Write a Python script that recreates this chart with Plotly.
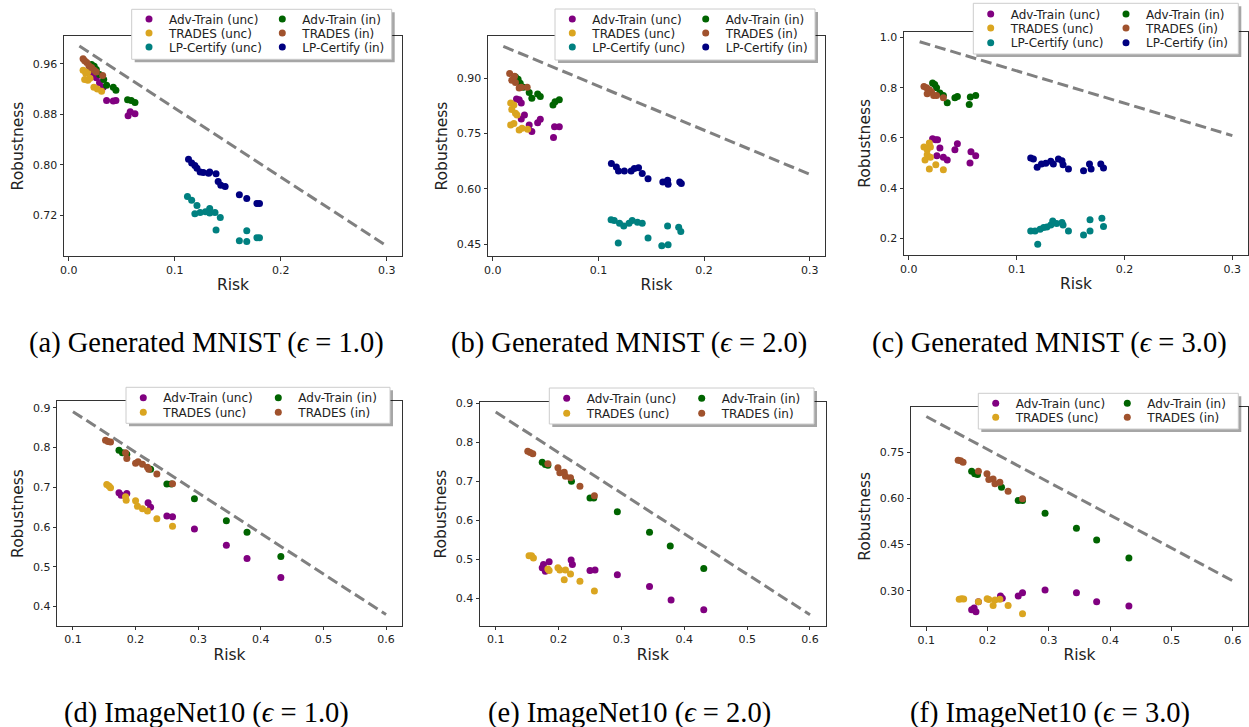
import plotly.graph_objects as go

W, H = 1249, 727

# ---------------- data: Generated MNIST, eps = 1.0 ----------------
A_ADV_UNC_X = [0.023, 0.026, 0.029, 0.0325, 0.0357, 0.042, 0.0445, 0.056, 0.058, 0.0625]
A_ADV_UNC_Y = [0.945, 0.938, 0.930, 0.923, 0.902, 0.901, 0.902, 0.878, 0.884, 0.881]
A_TRADES_UNC_X = [0.0135, 0.016, 0.018, 0.015, 0.018, 0.020, 0.0237, 0.027, 0.031]
A_TRADES_UNC_Y = [0.950, 0.945, 0.947, 0.935, 0.934, 0.937, 0.923, 0.920, 0.9166]
A_LP_UNC_X = [0.112, 0.116, 0.121, 0.119, 0.124, 0.129, 0.133, 0.133, 0.138, 0.143, 0.139, 0.161, 0.168, 0.168, 0.1776, 0.180]
A_LP_UNC_Y = [0.750, 0.744, 0.736, 0.723, 0.725, 0.726, 0.731, 0.724, 0.725, 0.717, 0.697, 0.680, 0.679, 0.696, 0.685, 0.685]
A_ADV_IN_X = [0.0215, 0.024, 0.026, 0.029, 0.033, 0.0357, 0.042, 0.0445, 0.0555, 0.059, 0.0625]
A_ADV_IN_Y = [0.959, 0.956, 0.951, 0.943, 0.935, 0.926, 0.923, 0.918, 0.903, 0.902, 0.899]
A_TRADES_IN_X = [0.0135, 0.015, 0.017, 0.019, 0.0215, 0.024, 0.026, 0.032]
A_TRADES_IN_Y = [0.968, 0.965, 0.962, 0.957, 0.954, 0.950, 0.947, 0.9415]
A_LP_IN_X = [0.113, 0.116, 0.119, 0.121, 0.124, 0.127, 0.132, 0.133, 0.139, 0.141, 0.1435, 0.1476, 0.161, 0.168, 0.1776, 0.180]
A_LP_IN_Y = [0.809, 0.803, 0.799, 0.795, 0.789, 0.788, 0.787, 0.789, 0.786, 0.774, 0.768, 0.766, 0.753, 0.747, 0.739, 0.739]
A_BOUND_X = [0.01, 0.3]
A_BOUND_Y = [0.988, 0.672]

# ---------------- data: Generated MNIST, eps = 2.0 ----------------
B_ADV_UNC_X = [0.0225, 0.025, 0.027, 0.027, 0.030, 0.0345, 0.037, 0.0425, 0.045, 0.0575, 0.0585, 0.063]
B_ADV_UNC_Y = [0.843, 0.841, 0.832, 0.789, 0.800, 0.773, 0.755, 0.779, 0.788, 0.739, 0.768, 0.768]
B_TRADES_UNC_X = [0.017, 0.018, 0.020, 0.0215, 0.023, 0.017, 0.020, 0.025, 0.0277, 0.033]
B_TRADES_UNC_Y = [0.832, 0.815, 0.827, 0.8045, 0.800, 0.773, 0.777, 0.759, 0.764, 0.761]
B_LP_UNC_X = [0.112, 0.115, 0.120, 0.124, 0.129, 0.132, 0.137, 0.1415, 0.1188, 0.147, 0.160, 0.166, 0.1655, 0.176, 0.178]
B_LP_UNC_Y = [0.5155, 0.5136, 0.506, 0.499, 0.506, 0.514, 0.509, 0.506, 0.4527, 0.466, 0.4455, 0.448, 0.499, 0.4955, 0.4836]
B_ADV_IN_X = [0.0215, 0.024, 0.026, 0.029, 0.0345, 0.037, 0.0425, 0.045, 0.057, 0.059, 0.063]
B_ADV_IN_Y = [0.903, 0.897, 0.886, 0.875, 0.861, 0.845, 0.857, 0.850, 0.827, 0.836, 0.841]
B_TRADES_IN_X = [0.016, 0.018, 0.0206, 0.0215, 0.025, 0.027, 0.0326]
B_TRADES_IN_Y = [0.912, 0.894, 0.905, 0.888, 0.873, 0.875, 0.875]
B_LP_IN_X = [0.1123, 0.117, 0.119, 0.1246, 0.131, 0.134, 0.138, 0.1415, 0.147, 0.161, 0.1655, 0.166, 0.177, 0.1785]
B_LP_IN_Y = [0.668, 0.659, 0.648, 0.648, 0.648, 0.6545, 0.657, 0.641, 0.627, 0.618, 0.623, 0.612, 0.618, 0.614]
B_BOUND_X = [0.01, 0.3]
B_BOUND_Y = [0.986, 0.639]

# ---------------- data: Generated MNIST, eps = 3.0 ----------------
C_ADV_UNC_X = [0.022, 0.0248, 0.0266, 0.0288, 0.026, 0.032, 0.0356, 0.0427, 0.045, 0.0567, 0.0576, 0.062]
C_ADV_UNC_Y = [0.596, 0.592, 0.592, 0.559, 0.529, 0.523, 0.512, 0.552, 0.576, 0.500, 0.545, 0.529]
C_TRADES_UNC_X = [0.014, 0.017, 0.019, 0.020, 0.017, 0.015, 0.020, 0.019, 0.025, 0.032]
C_TRADES_UNC_Y = [0.563, 0.552, 0.579, 0.563, 0.533, 0.512, 0.523, 0.476, 0.493, 0.473]
C_LP_UNC_X = [0.113, 0.117, 0.1217, 0.125, 0.128, 0.1316, 0.1334, 0.137, 0.142, 0.143, 0.1195, 0.148, 0.162, 0.168, 0.168, 0.179, 0.1805]
C_LP_UNC_Y = [0.229, 0.229, 0.236, 0.243, 0.245, 0.253, 0.269, 0.259, 0.263, 0.253, 0.176, 0.229, 0.213, 0.229, 0.273, 0.279, 0.247]
C_ADV_IN_X = [0.022, 0.024, 0.0257, 0.0288, 0.032, 0.0356, 0.0427, 0.045, 0.056, 0.057, 0.062]
C_ADV_IN_Y = [0.819, 0.813, 0.800, 0.779, 0.769, 0.740, 0.760, 0.765, 0.733, 0.763, 0.769]
C_TRADES_IN_X = [0.014, 0.0164, 0.019, 0.021, 0.017, 0.023, 0.0257, 0.032]
C_TRADES_IN_Y = [0.805, 0.800, 0.792, 0.783, 0.776, 0.769, 0.769, 0.760]
C_LP_IN_X = [0.113, 0.1155, 0.119, 0.123, 0.127, 0.1316, 0.134, 0.1387, 0.142, 0.143, 0.148, 0.162, 0.1675, 0.169, 0.178, 0.1805]
C_LP_IN_Y = [0.520, 0.516, 0.483, 0.496, 0.499, 0.507, 0.496, 0.516, 0.509, 0.493, 0.476, 0.469, 0.496, 0.476, 0.496, 0.480]
C_BOUND_X = [0.01, 0.3]
C_BOUND_Y = [0.983, 0.609]

# ---------------- data: ImageNet10, eps = 1.0 ----------------
D_ADV_UNC_X = [0.1735, 0.177, 0.186, 0.220, 0.224, 0.250, 0.259, 0.294, 0.345, 0.378, 0.432]
D_ADV_UNC_Y = [0.686, 0.680, 0.684, 0.661, 0.650, 0.628, 0.626, 0.595, 0.554, 0.521, 0.473]
D_TRADES_UNC_X = [0.154, 0.1575, 0.160, 0.184, 0.185, 0.200, 0.203, 0.211, 0.219, 0.234, 0.259]
D_TRADES_UNC_Y = [0.707, 0.703, 0.699, 0.676, 0.667, 0.666, 0.652, 0.646, 0.640, 0.621, 0.602]
D_ADV_IN_X = [0.1735, 0.179, 0.186, 0.224, 0.250, 0.257, 0.294, 0.345, 0.378, 0.432]
D_ADV_IN_Y = [0.793, 0.787, 0.783, 0.745, 0.708, 0.708, 0.671, 0.616, 0.587, 0.526]
D_TRADES_IN_X = [0.152, 0.156, 0.160, 0.184, 0.186, 0.200, 0.204, 0.211, 0.219, 0.221, 0.234, 0.259]
D_TRADES_IN_Y = [0.818, 0.815, 0.814, 0.787, 0.772, 0.760, 0.764, 0.758, 0.750, 0.745, 0.733, 0.709]
D_BOUND_X = [0.1, 0.6]
D_BOUND_Y = [0.890, 0.380]

# ---------------- data: ImageNet10, eps = 2.0 ----------------
E_ADV_UNC_X = [0.174, 0.176, 0.179, 0.185, 0.220, 0.222, 0.250, 0.258, 0.2935, 0.3447, 0.379, 0.431]
E_ADV_UNC_Y = [0.478, 0.486, 0.469, 0.493, 0.498, 0.486, 0.471, 0.472, 0.460, 0.430, 0.395, 0.370]
E_TRADES_UNC_X = [0.153, 0.157, 0.160, 0.183, 0.185, 0.199, 0.202, 0.209, 0.211, 0.219, 0.234, 0.257]
E_TRADES_UNC_Y = [0.509, 0.509, 0.503, 0.475, 0.471, 0.478, 0.472, 0.447, 0.472, 0.462, 0.443, 0.418]
E_ADV_IN_X = [0.174, 0.179, 0.183, 0.2205, 0.250, 0.256, 0.2935, 0.3447, 0.3777, 0.431]
E_ADV_IN_Y = [0.749, 0.743, 0.741, 0.700, 0.657, 0.657, 0.622, 0.569, 0.534, 0.476]
E_TRADES_IN_X = [0.151, 0.155, 0.159, 0.183, 0.199, 0.202, 0.209, 0.211, 0.219, 0.234, 0.257]
E_TRADES_IN_Y = [0.777, 0.774, 0.771, 0.745, 0.735, 0.722, 0.723, 0.713, 0.709, 0.687, 0.663]
E_BOUND_X = [0.1, 0.6]
E_BOUND_Y = [0.878, 0.357]

# ---------------- data: ImageNet10, eps = 3.0 ----------------
F_ADV_UNC_X = [0.174, 0.178, 0.181, 0.185, 0.221, 0.224, 0.250, 0.257, 0.2938, 0.345, 0.378, 0.4306]
F_ADV_UNC_Y = [0.238, 0.244, 0.231, 0.264, 0.283, 0.275, 0.283, 0.293, 0.302, 0.293, 0.264, 0.250]
F_TRADES_UNC_X = [0.1537, 0.1575, 0.161, 0.185, 0.1993, 0.202, 0.209, 0.212, 0.220, 0.2335, 0.257]
F_TRADES_UNC_Y = [0.272, 0.274, 0.273, 0.264, 0.274, 0.271, 0.252, 0.270, 0.272, 0.252, 0.225]
F_ADV_IN_X = [0.174, 0.179, 0.1836, 0.2227, 0.250, 0.257, 0.2938, 0.345, 0.378, 0.4306]
F_ADV_IN_Y = [0.689, 0.681, 0.678, 0.637, 0.594, 0.594, 0.552, 0.503, 0.465, 0.406]
F_TRADES_IN_X = [0.152, 0.156, 0.160, 0.185, 0.199, 0.202, 0.209, 0.212, 0.220, 0.2335, 0.257]
F_TRADES_IN_Y = [0.725, 0.723, 0.718, 0.689, 0.681, 0.662, 0.664, 0.648, 0.653, 0.624, 0.599]
F_BOUND_X = [0.1, 0.6]
F_BOUND_Y = [0.867, 0.332]

# ---------------- tick labels ----------------
TOP_X_TICKS = [0.0, 0.1, 0.2, 0.3]
BOT_X_TICKS = [0.1, 0.2, 0.3, 0.4, 0.5, 0.6]
A_Y_TICKS = [0.72, 0.80, 0.88, 0.96]
B_Y_TICKS = [0.45, 0.60, 0.75, 0.90]
C_Y_TICKS = [0.2, 0.4, 0.6, 0.8, 1.0]
D_Y_TICKS = [0.4, 0.5, 0.6, 0.7, 0.8, 0.9]
E_Y_TICKS = [0.4, 0.5, 0.6, 0.7, 0.8, 0.9]
F_Y_TICKS = [0.30, 0.45, 0.60, 0.75]

CAPTIONS = [
    "(a) Generated MNIST (<i>ϵ</i> = 1.0)",
    "(b) Generated MNIST (<i>ϵ</i> = 2.0)",
    "(c) Generated MNIST (<i>ϵ</i> = 3.0)",
    "(d) ImageNet10 (<i>ϵ</i> = 1.0)",
    "(e) ImageNet10 (<i>ϵ</i> = 2.0)",
    "(f) ImageNet10 (<i>ϵ</i> = 3.0)",
]

NAMES = {
    "adv_unc": "Adv-Train (unc)", "trades_unc": "TRADES (unc)", "lp_unc": "LP-Certify (unc)",
    "adv_in": "Adv-Train (in)", "trades_in": "TRADES (in)", "lp_in": "LP-Certify (in)",
}
COLORS = {
    "adv_unc": "#800080", "trades_unc": "#DAA520", "lp_unc": "#008080",
    "adv_in": "#006400", "trades_in": "#A0522D", "lp_in": "#000080",
}
# legend slot (column, row)
SLOT = {"adv_unc": (0, 0), "trades_unc": (0, 1), "lp_unc": (0, 2),
        "adv_in": (1, 0), "trades_in": (1, 1), "lp_in": (1, 2)}

PANELS = [
    dict(series=[("adv_unc", A_ADV_UNC_X, A_ADV_UNC_Y), ("trades_unc", A_TRADES_UNC_X, A_TRADES_UNC_Y),
                 ("lp_unc", A_LP_UNC_X, A_LP_UNC_Y), ("adv_in", A_ADV_IN_X, A_ADV_IN_Y),
                 ("trades_in", A_TRADES_IN_X, A_TRADES_IN_Y), ("lp_in", A_LP_IN_X, A_LP_IN_Y)],
         bound=(A_BOUND_X, A_BOUND_Y), xticks=TOP_X_TICKS, yticks=A_Y_TICKS, yfmt="%.2f", xfmt="%.1f",
         box=(64, 402, 36, 256), xr=[-0.0045, 0.3145], yr=[0.656, 1.004],
         cols=[149, 282.3], rows=[19, 33, 47], lbox=(131.7, 391.7, 9.3, 59.3), cap=(206, 343)),
    dict(series=[("adv_unc", B_ADV_UNC_X, B_ADV_UNC_Y), ("trades_unc", B_TRADES_UNC_X, B_TRADES_UNC_Y),
                 ("lp_unc", B_LP_UNC_X, B_LP_UNC_Y), ("adv_in", B_ADV_IN_X, B_ADV_IN_Y),
                 ("trades_in", B_TRADES_IN_X, B_TRADES_IN_Y), ("lp_in", B_LP_IN_X, B_LP_IN_Y)],
         bound=(B_BOUND_X, B_BOUND_Y), xticks=TOP_X_TICKS, yticks=B_Y_TICKS, yfmt="%.2f", xfmt="%.1f",
         box=(488, 825, 36, 256), xr=[-0.0045, 0.3145], yr=[0.4175, 1.014],
         cols=[572.3, 705.7], rows=[19, 33, 47], lbox=(555, 815, 9, 60), cap=(629, 343)),
    dict(series=[("adv_unc", C_ADV_UNC_X, C_ADV_UNC_Y), ("trades_unc", C_TRADES_UNC_X, C_TRADES_UNC_Y),
                 ("lp_unc", C_LP_UNC_X, C_LP_UNC_Y), ("adv_in", C_ADV_IN_X, C_ADV_IN_Y),
                 ("trades_in", C_TRADES_IN_X, C_TRADES_IN_Y), ("lp_in", C_LP_IN_X, C_LP_IN_Y)],
         bound=(C_BOUND_X, C_BOUND_Y), xticks=TOP_X_TICKS, yticks=C_Y_TICKS, yfmt="%.1f", xfmt="%.1f",
         box=(904, 1248, 31.7, 255), xr=[-0.0045, 0.3145], yr=[0.133, 1.023],
         cols=[990.7, 1126], rows=[14, 28, 42.7], lbox=(973.3, 1238.3, 3.3, 54), cap=(1049, 343)),
    dict(series=[("adv_unc", D_ADV_UNC_X, D_ADV_UNC_Y), ("trades_unc", D_TRADES_UNC_X, D_TRADES_UNC_Y),
                 ("adv_in", D_ADV_IN_X, D_ADV_IN_Y), ("trades_in", D_TRADES_IN_X, D_TRADES_IN_Y)],
         bound=(D_BOUND_X, D_BOUND_Y), xticks=BOT_X_TICKS, yticks=D_Y_TICKS, yfmt="%.1f", xfmt="%.1f",
         box=(57.3, 401.7, 401.3, 625.7), xr=[0.075, 0.625], yr=[0.352, 0.916],
         cols=[143.3, 278.3], rows=[397.7, 412.3], lbox=(126, 390, 387.3, 423.3), cap=(206, 713)),
    dict(series=[("adv_unc", E_ADV_UNC_X, E_ADV_UNC_Y), ("trades_unc", E_TRADES_UNC_X, E_TRADES_UNC_Y),
                 ("adv_in", E_ADV_IN_X, E_ADV_IN_Y), ("trades_in", E_TRADES_IN_X, E_TRADES_IN_Y)],
         bound=(E_BOUND_X, E_BOUND_Y), xticks=BOT_X_TICKS, yticks=E_Y_TICKS, yfmt="%.1f", xfmt="%.1f",
         box=(480, 825.7, 402.3, 625.7), xr=[0.075, 0.625], yr=[0.329, 0.903],
         cols=[566.7, 701.7], rows=[398.3, 413.3], lbox=(549.3, 814, 388, 424), cap=(629, 713)),
    dict(series=[("adv_unc", F_ADV_UNC_X, F_ADV_UNC_Y), ("trades_unc", F_TRADES_UNC_X, F_TRADES_UNC_Y),
                 ("adv_in", F_ADV_IN_X, F_ADV_IN_Y), ("trades_in", F_TRADES_IN_X, F_TRADES_IN_Y)],
         bound=(F_BOUND_X, F_BOUND_Y), xticks=BOT_X_TICKS, yticks=F_Y_TICKS, yfmt="%.2f", xfmt="%.1f",
         box=(911, 1248, 406.7, 626), xr=[0.075, 0.625], yr=[0.185, 0.899],
         cols=[995.7, 1127.3], rows=[403.3, 417.3], lbox=(978.3, 1238.3, 393.3, 429), cap=(1050, 713)),
]


def px(xp):
    return xp / W


def py(yp):
    return 1 - yp / H


AX_COLOR = "#333333"
TXT_COLOR = "#222222"
FONT = "DejaVu Sans"

fig = go.Figure()
layout = dict(
    width=W, height=H, autosize=False,
    margin=dict(l=0, r=0, t=0, b=0, autoexpand=False),
    paper_bgcolor="white", plot_bgcolor="white",
    font=dict(family=FONT, color=TXT_COLOR, size=12),
    showlegend=True,
)
shapes = []
annotations = []
legend_no = 0

for i, p in enumerate(PANELS):
    n = i + 1
    xa = "x" if n == 1 else f"x{n}"
    ya = "y" if n == 1 else f"y{n}"
    x0, x1, y0, y1 = p["box"]
    common = dict(
        showline=True, mirror=True, linecolor=AX_COLOR, linewidth=1,
        ticks="outside", ticklen=3.5, tickwidth=1, tickcolor=AX_COLOR,
        showgrid=False, zeroline=False,
        tickfont=dict(family=FONT, size=11, color=TXT_COLOR),
    )
    layout["xaxis" if n == 1 else f"xaxis{n}"] = dict(
        common, domain=[px(x0), px(x1)], anchor=ya, range=p["xr"],
        tickvals=p["xticks"], ticktext=[p["xfmt"] % v for v in p["xticks"]],
        title=dict(text="Risk", font=dict(family=FONT, size=15.5, color=TXT_COLOR), standoff=3),
    )
    layout["yaxis" if n == 1 else f"yaxis{n}"] = dict(
        common, domain=[py(y1), py(y0)], anchor=xa, range=p["yr"],
        tickvals=p["yticks"], ticktext=[p["yfmt"] % v for v in p["yticks"]],
        title=dict(text="Robustness", font=dict(family=FONT, size=15.5, color=TXT_COLOR), standoff=5),
    )

    # bound (dashed line)
    bx, by = p["bound"]
    fig.add_trace(go.Scatter(
        x=bx, y=by, mode="lines", xaxis=xa, yaxis=ya, showlegend=False, hoverinfo="skip",
        line=dict(color="#808080", width=3, dash="11px,5px"),
    ))

    for key, xs, ys in p["series"]:
        legend_no += 1
        lname = "legend" if legend_no == 1 else f"legend{legend_no}"
        col, row = SLOT[key]
        mx = p["cols"][col]
        my = p["rows"][row]
        fig.add_trace(go.Scatter(
            x=xs, y=ys, mode="markers", name=NAMES[key], xaxis=xa, yaxis=ya,
            marker=dict(color=COLORS[key], size=7, line=dict(width=0)),
            legend=lname,
        ))
        layout[lname] = dict(
            x=px(mx - 20), y=py(my), xanchor="left", yanchor="middle",
            bgcolor="rgba(0,0,0,0)", borderwidth=0,
            font=dict(family=FONT, size=12, color=TXT_COLOR),
        )

    # legend frame with shadow
    lx0, lx1, ly0, ly1 = p["lbox"]
    shapes.append(dict(type="rect", xref="paper", yref="paper", layer="above",
                       x0=px(lx0 + 3), x1=px(lx1 + 3), y0=py(ly1 + 3), y1=py(ly0 + 3),
                       fillcolor="rgba(0,0,0,0.35)", line=dict(width=0)))
    shapes.append(dict(type="rect", xref="paper", yref="paper", layer="above",
                       x0=px(lx0), x1=px(lx1), y0=py(ly1), y1=py(ly0),
                       fillcolor="white", line=dict(color="#cccccc", width=1)))

    cx, cy = p["cap"]
    annotations.append(dict(
        text=CAPTIONS[i], xref="paper", yref="paper", x=px(cx), y=py(cy),
        xanchor="center", yanchor="middle", showarrow=False,
        font=dict(family="Liberation Serif", size=28.5, color="black"),
    ))

layout["shapes"] = shapes
layout["annotations"] = annotations
fig.update_layout(**layout)
fig.write_html("out.html")
